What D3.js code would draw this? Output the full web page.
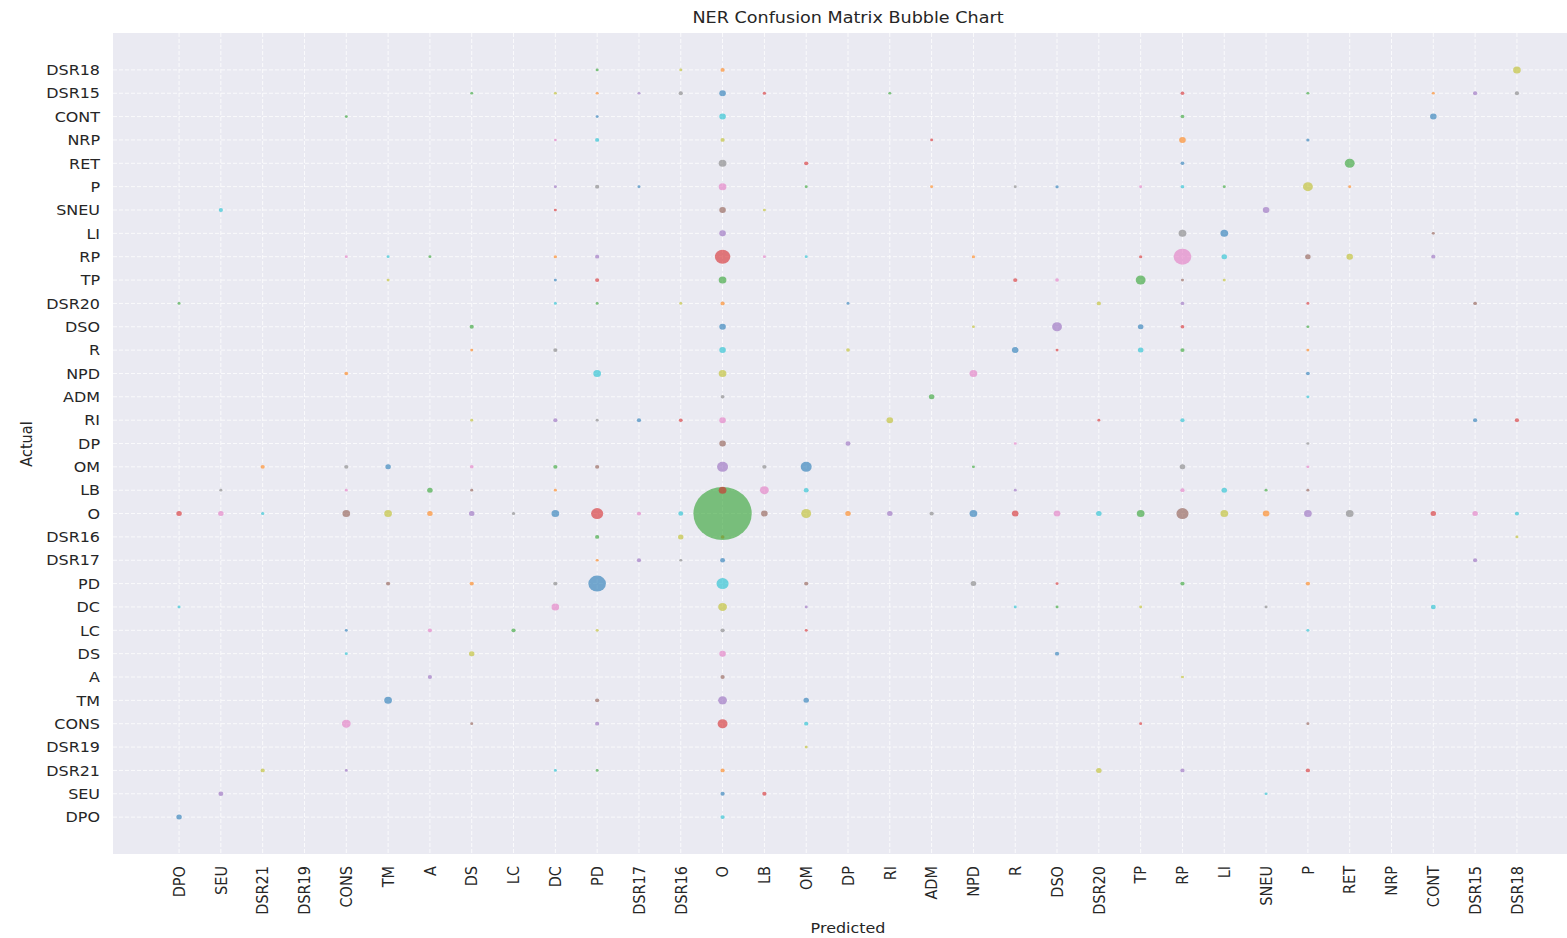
<!DOCTYPE html>
<html>
<head>
<meta charset="utf-8">
<script src="https://cdn.jsdelivr.net/npm/d3@7"></script>
<style>
  body { margin: 0; background: #fff; }
  text { font-family: "DejaVu Sans", sans-serif; fill: #262626; }
</style>
</head>
<body>
<div id="chart"></div>
<script>
var svgWidth = 1567;
var svgHeight = 938;

// plot box (the right side runs past the picture edge, as in the original)
var margin = { top: 33, left: 113, right: 1583, bottom: 854 };
var stretch = 1.1; // the source image is a bit wider than tall

var categories = ["DPO", "SEU", "DSR21", "DSR19", "CONS", "TM", "A", "DS", "LC", "DC", "PD",
  "DSR17", "DSR16", "O", "LB", "OM", "DP", "RI", "ADM", "NPD", "R", "DSO", "DSR20", "TP",
  "RP", "LI", "SNEU", "P", "RET", "NRP", "CONT", "DSR15", "DSR18"];

var tab10 = ["#1f77b4", "#ff7f0e", "#2ca02c", "#d62728", "#9467bd",
  "#8c564b", "#e377c2", "#7f7f7f", "#bcbd22", "#17becf"];

// [actual, predicted, count]
var cells = [
  ["DSR18", "PD", 3], ["DSR18", "DSR16", 3], ["DSR18", "O", 8], ["DSR18", "DSR18", 36],
  ["DSR15", "DS", 3], ["DSR15", "DC", 3], ["DSR15", "PD", 3], ["DSR15", "DSR17", 3], ["DSR15", "DSR16", 8],
  ["DSR15", "O", 25], ["DSR15", "LB", 4], ["DSR15", "RI", 3], ["DSR15", "RP", 6], ["DSR15", "P", 3],
  ["DSR15", "CONT", 3], ["DSR15", "DSR15", 8], ["DSR15", "DSR18", 8],
  ["CONT", "CONS", 3], ["CONT", "PD", 3], ["CONT", "O", 25], ["CONT", "RP", 6], ["CONT", "CONT", 25],
  ["NRP", "DC", 2], ["NRP", "PD", 8], ["NRP", "O", 8], ["NRP", "ADM", 3], ["NRP", "RP", 25], ["NRP", "P", 4],
  ["RET", "O", 36], ["RET", "OM", 8], ["RET", "RP", 6], ["RET", "RET", 64],
  ["P", "DC", 3], ["P", "PD", 8], ["P", "DSR17", 3], ["P", "O", 36], ["P", "OM", 3], ["P", "ADM", 3],
  ["P", "R", 3], ["P", "DSO", 4], ["P", "TP", 3], ["P", "RP", 6], ["P", "LI", 3], ["P", "P", 64], ["P", "RET", 3],
  ["SNEU", "SEU", 8], ["SNEU", "DC", 3], ["SNEU", "O", 25], ["SNEU", "LB", 3], ["SNEU", "SNEU", 25],
  ["LI", "O", 25], ["LI", "RP", 36], ["LI", "LI", 36], ["LI", "CONT", 3],
  ["RP", "CONS", 3], ["RP", "TM", 3], ["RP", "A", 3], ["RP", "DC", 4], ["RP", "PD", 8], ["RP", "O", 170],
  ["RP", "LB", 3], ["RP", "OM", 3], ["RP", "NPD", 4], ["RP", "TP", 4], ["RP", "RP", 225], ["RP", "LI", 16],
  ["RP", "P", 16], ["RP", "RET", 25], ["RP", "CONT", 8],
  ["TP", "TM", 3], ["TP", "DC", 3], ["TP", "PD", 8], ["TP", "O", 36], ["TP", "R", 8], ["TP", "DSO", 6],
  ["TP", "TP", 64], ["TP", "RP", 3], ["TP", "LI", 3],
  ["DSR20", "DPO", 3], ["DSR20", "DC", 3], ["DSR20", "PD", 3], ["DSR20", "DSR16", 3], ["DSR20", "O", 8],
  ["DSR20", "DP", 3], ["DSR20", "DSR20", 8], ["DSR20", "RP", 6], ["DSR20", "P", 3], ["DSR20", "DSR15", 6],
  ["DSO", "DS", 8], ["DSO", "O", 25], ["DSO", "NPD", 3], ["DSO", "DSO", 64], ["DSO", "TP", 16],
  ["DSO", "RP", 6], ["DSO", "P", 3],
  ["R", "DS", 3], ["R", "DC", 8], ["R", "O", 25], ["R", "DP", 6], ["R", "R", 25], ["R", "DSO", 3],
  ["R", "TP", 16], ["R", "RP", 8], ["R", "P", 3],
  ["NPD", "CONS", 6], ["NPD", "PD", 36], ["NPD", "O", 36], ["NPD", "NPD", 36], ["NPD", "P", 6],
  ["ADM", "O", 6], ["ADM", "ADM", 16], ["ADM", "P", 3],
  ["RI", "DS", 3], ["RI", "DC", 8], ["RI", "PD", 3], ["RI", "DSR17", 8], ["RI", "DSR16", 6], ["RI", "O", 25],
  ["RI", "RI", 25], ["RI", "DSR20", 3], ["RI", "RP", 8], ["RI", "DSR15", 8], ["RI", "DSR18", 8],
  ["DP", "O", 25], ["DP", "DP", 12], ["DP", "R", 3], ["DP", "P", 3],
  ["OM", "DSR21", 8], ["OM", "CONS", 8], ["OM", "TM", 16], ["OM", "DS", 6], ["OM", "DC", 8], ["OM", "PD", 8],
  ["OM", "O", 81], ["OM", "LB", 8], ["OM", "OM", 81], ["OM", "NPD", 3], ["OM", "RP", 16], ["OM", "P", 3],
  ["LB", "SEU", 3], ["LB", "CONS", 3], ["LB", "A", 16], ["LB", "DS", 3], ["LB", "DC", 3], ["LB", "O", 36],
  ["LB", "LB", 49], ["LB", "OM", 12], ["LB", "R", 3], ["LB", "RP", 8], ["LB", "LI", 16], ["LB", "SNEU", 3],
  ["LB", "P", 3],
  ["O", "DPO", 16], ["O", "SEU", 16], ["O", "DSR21", 4], ["O", "CONS", 36], ["O", "TM", 36], ["O", "A", 16],
  ["O", "DS", 16], ["O", "LC", 4], ["O", "DC", 36], ["O", "PD", 100], ["O", "DSR17", 8], ["O", "DSR16", 12],
  ["O", "O", 2700], ["O", "LB", 25], ["O", "OM", 64], ["O", "DP", 16], ["O", "RI", 16], ["O", "ADM", 8],
  ["O", "NPD", 36], ["O", "R", 25], ["O", "DSO", 25], ["O", "DSR20", 16], ["O", "TP", 36], ["O", "RP", 100],
  ["O", "LI", 36], ["O", "SNEU", 25], ["O", "P", 36], ["O", "RET", 36], ["O", "CONT", 16], ["O", "DSR15", 16],
  ["O", "DSR18", 8],
  ["DSR16", "PD", 8], ["DSR16", "DSR16", 16], ["DSR16", "O", 6], ["DSR16", "DSR18", 3],
  ["DSR17", "PD", 3], ["DSR17", "DSR17", 8], ["DSR17", "DSR16", 3], ["DSR17", "O", 12], ["DSR17", "DSR15", 8],
  ["PD", "TM", 8], ["PD", "DS", 8], ["PD", "DC", 8], ["PD", "PD", 225], ["PD", "O", 100], ["PD", "OM", 8],
  ["PD", "NPD", 16], ["PD", "DSO", 3], ["PD", "RP", 8], ["PD", "P", 8],
  ["DC", "DPO", 3], ["DC", "DC", 36], ["DC", "O", 49], ["DC", "OM", 3], ["DC", "R", 3], ["DC", "DSO", 3],
  ["DC", "TP", 3], ["DC", "SNEU", 3], ["DC", "CONT", 12],
  ["LC", "CONS", 3], ["LC", "A", 8], ["LC", "LC", 8], ["LC", "PD", 3], ["LC", "O", 8], ["LC", "OM", 3], ["LC", "P", 3],
  ["DS", "CONS", 3], ["DS", "DS", 16], ["DS", "O", 25], ["DS", "DSO", 8],
  ["A", "A", 8], ["A", "O", 8], ["A", "RP", 3],
  ["TM", "TM", 36], ["TM", "PD", 8], ["TM", "O", 49], ["TM", "OM", 16],
  ["CONS", "CONS", 49], ["CONS", "DS", 3], ["CONS", "PD", 8], ["CONS", "O", 64], ["CONS", "OM", 8],
  ["CONS", "TP", 3], ["CONS", "P", 3],
  ["DSR19", "OM", 3],
  ["DSR21", "DSR21", 8], ["DSR21", "CONS", 3], ["DSR21", "DC", 3], ["DSR21", "PD", 3], ["DSR21", "O", 8],
  ["DSR21", "DSR20", 16], ["DSR21", "RP", 8], ["DSR21", "P", 8],
  ["SEU", "SEU", 12], ["SEU", "O", 8], ["SEU", "LB", 8], ["SEU", "SNEU", 3],
  ["DPO", "DPO", 16], ["DPO", "O", 8]
];

var svg = d3.select("#chart")
  .append("svg")
  .attr("width", svgWidth)
  .attr("height", svgHeight);

var xScale = d3.scalePoint()
  .domain(categories)
  .range([margin.left, margin.right])
  .padding(1.58);

var yScale = d3.scalePoint()
  .domain(categories)
  .range([margin.bottom, margin.top])
  .padding(1.58);

var rScale = d3.scaleSqrt()
  .domain([0, d3.max(cells, d => d[2])])
  .range([0, 26]);

// background
svg.append("rect")
  .attr("x", margin.left)
  .attr("y", margin.top)
  .attr("width", margin.right - margin.left)
  .attr("height", margin.bottom - margin.top)
  .attr("fill", "#eaeaf2");

// grid
var grid = svg.append("g")
  .attr("stroke", "#fff")
  .attr("stroke-width", 1)
  .attr("stroke-dasharray", "4,2")
  .attr("opacity", 0.8);

grid.selectAll("line.v")
  .data(categories)
  .enter()
  .append("line")
  .attr("x1", d => xScale(d))
  .attr("x2", d => xScale(d))
  .attr("y1", margin.top)
  .attr("y2", margin.bottom);

grid.selectAll("line.h")
  .data(categories)
  .enter()
  .append("line")
  .attr("x1", margin.left)
  .attr("x2", margin.right)
  .attr("y1", d => yScale(d))
  .attr("y2", d => yScale(d));

// drawing order / colour follow the cell order (predicted, then actual)
var cellIndex = d => categories.indexOf(d[1]) * categories.length + categories.indexOf(d[0]);
var sorted = cells.slice().sort((a, b) => cellIndex(a) - cellIndex(b));

svg.append("g")
  .selectAll("ellipse")
  .data(sorted)
  .enter()
  .append("ellipse")
  .attr("cx", d => xScale(d[1]))
  .attr("cy", d => yScale(d[0]))
  .attr("rx", d => (rScale(d[2]) + 0.5) * stretch)
  .attr("ry", d => rScale(d[2]) + 0.5)
  .attr("fill", d => tab10[cellIndex(d) % 10])
  .attr("opacity", 0.6);

// y tick labels
svg.append("g")
  .selectAll("text")
  .data(categories)
  .enter()
  .append("text")
  .attr("transform", d => `translate(100, ${yScale(d)}) scale(${stretch},1)`)
  .attr("text-anchor", "end")
  .attr("dy", "0.36em")
  .attr("font-size", "14.5px")
  .text(d => d);

// x tick labels
svg.append("g")
  .selectAll("text")
  .data(categories)
  .enter()
  .append("text")
  .attr("transform", d => `translate(${xScale(d)}, 866) scale(${stretch},1) rotate(-90)`)
  .attr("text-anchor", "end")
  .attr("dy", "0.36em")
  .attr("font-size", "14.5px")
  .text(d => d);

// title and axis labels
svg.append("text")
  .attr("transform", `translate(848, 23) scale(${stretch},1)`)
  .attr("text-anchor", "middle")
  .attr("font-size", "16px")
  .text("NER Confusion Matrix Bubble Chart");

svg.append("text")
  .attr("transform", `translate(848, 933) scale(${stretch},1)`)
  .attr("text-anchor", "middle")
  .attr("font-size", "14.5px")
  .text("Predicted");

svg.append("text")
  .attr("transform", `translate(32, 444) scale(${stretch},1) rotate(-90)`)
  .attr("text-anchor", "middle")
  .attr("font-size", "14.5px")
  .text("Actual");
</script>
</body>
</html>
